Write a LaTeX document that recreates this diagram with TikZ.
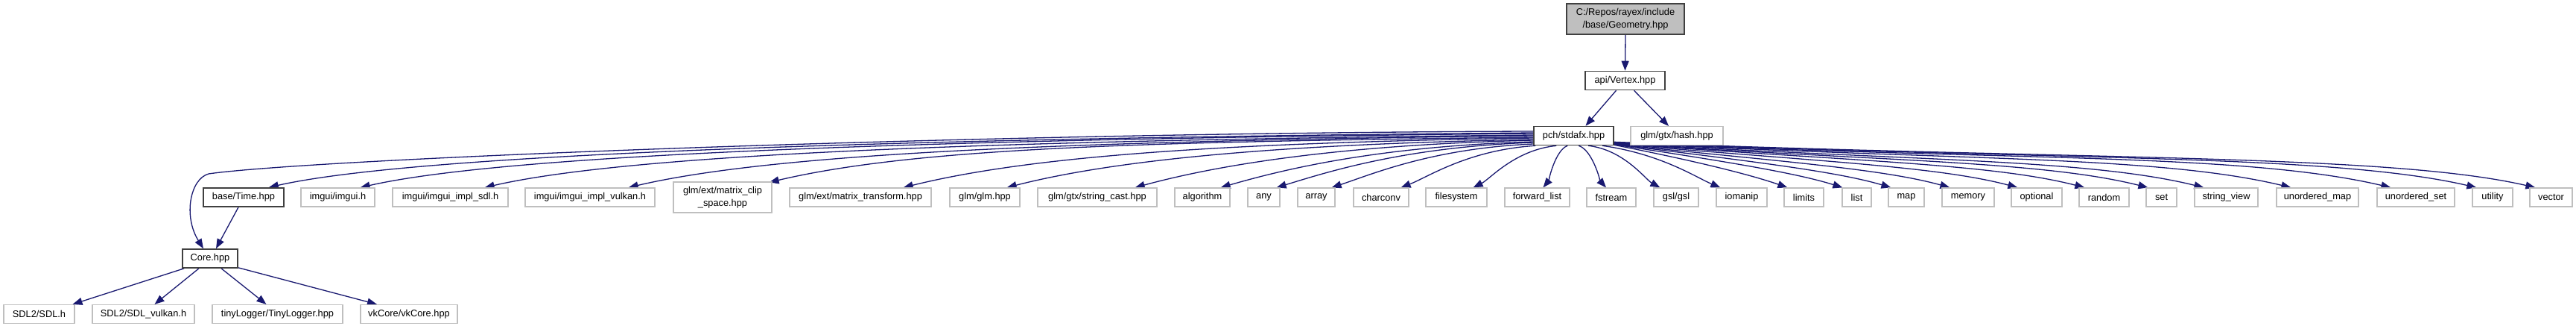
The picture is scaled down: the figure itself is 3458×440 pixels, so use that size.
\documentclass[tikz,border=0pt]{standalone}
\usepackage{fontspec}
\setmainfont{Liberation Sans}
\usetikzlibrary{calc,arrows.meta}
\definecolor{edgec}{RGB}{25,25,112}
\definecolor{gb}{RGB}{191,191,191}
\definecolor{db}{RGB}{64,64,64}
\pgfdeclarelayer{bg}
\pgfsetlayers{bg,main}
\tikzset{
  nbase/.style={rectangle, inner sep=0pt, minimum height=12.5pt, font=\fontsize{6.4}{8.5}\selectfont, align=center, anchor=center},
  gbox/.style={nbase, draw=gb, line width=0.6pt, fill=white},
  kbox/.style={nbase, draw=db, line width=0.8pt, fill=white},
  conn/.style={draw=edgec, line width=0.65pt, -{Triangle[length=6.5pt,width=5pt]}}
}
\newcommand\bx[6]{\node[#1, minimum width=#5*0.5pt] (#2) at (#3,#4) {#6};}
\newcommand\fanedge[5]{%
  \draw[conn] let \p1=($(#1)+(#2)$), \p2=($(#3)+(#4)$),
    \n1={max(abs(\x2-\x1),1pt)},
    \n2={\y1-\y2},
    \n3={0.2+0.6*\n2/\n1},
    \n4={min(0.2,100pt/\n1)}
  in (\p1) .. controls ({\x1+0.5*(\x2-\x1)},{\y1-#5*\n2}) and ({\x2-(\x2-\x1)*\n4},{\y2+\n3*\n1*\n4}) .. (\p2);}
\begin{document}
\begin{tikzpicture}[x=0.5pt,y=-0.5pt]
\useasboundingbox (0,0) rectangle (3458,440);
% nodes
\node[kbox, fill=gb, minimum width=79pt, minimum height=20.5pt] (geom) at (2182,25.5) {C:/Repos/rayex/include\\/base/Geometry.hpp};
\bx{kbox}{vertex}{2181.5}{108}{107}{api/Vertex.hpp}
\bx{kbox}{stdafx}{2112.5}{182}{107}{pch/stdafx.hpp}
\bx{gbox}{hash}{2251}{182}{124}{glm/gtx/hash.hpp}
\bx{kbox}{time}{327}{264.5}{108}{base/Time.hpp}
\bx{gbox}{imgui}{453.5}{264.5}{99}{imgui/imgui.h}
\bx{gbox}{implsdl}{604.5}{264.5}{155}{imgui/imgui\_impl\_sdl.h}
\bx{gbox}{implvk}{792}{264.5}{174}{imgui/imgui\_impl\_vulkan.h}
\node[gbox, minimum width=66pt, minimum height=20.5pt] (clip) at (970,264.5) {glm/ext/matrix\_clip\\\_space.hpp};
\bx{gbox}{transform}{1155}{264.5}{190}{glm/ext/matrix\_transform.hpp}
\bx{gbox}{glm}{1322}{264.5}{94}{glm/glm.hpp}
\bx{gbox}{strcast}{1473}{264.5}{160}{glm/gtx/string\_cast.hpp}
\bx{gbox}{algorithm}{1614}{264.5}{74}{algorithm}
\bx{gbox}{any}{1696.5}{264.5}{43}{any}
\bx{gbox}{array}{1767}{264.5}{50}{array}
\bx{gbox}{charconv}{1854}{264.5}{74}{charconv}
\bx{gbox}{filesystem}{1955}{264.5}{82}{filesystem}
\bx{gbox}{fwdlist}{2063.5}{264.5}{87}{forward\_list}
\bx{gbox}{fstream}{2163}{264.5}{66}{fstream}
\bx{gbox}{gsl}{2250}{264.5}{60}{gsl/gsl}
\bx{gbox}{iomanip}{2338}{264.5}{68}{iomanip}
\bx{gbox}{limits}{2421.5}{264.5}{53}{limits}
\bx{gbox}{list}{2492.5}{264.5}{39}{list}
\bx{gbox}{map}{2559}{264.5}{48}{map}
\bx{gbox}{memory}{2642}{264.5}{70}{memory}
\bx{gbox}{optional}{2734}{264.5}{68}{optional}
\bx{gbox}{random}{2824.5}{264.5}{67}{random}
\bx{gbox}{set}{2901.5}{264.5}{41}{set}
\bx{gbox}{strview}{2988.5}{264.5}{85}{string\_view}
\bx{gbox}{umap}{3111}{264.5}{110}{unordered\_map}
\bx{gbox}{uset}{3243}{264.5}{104}{unordered\_set}
\bx{gbox}{utility}{3346}{264.5}{54}{utility}
\bx{gbox}{vector}{3424.5}{264.5}{57}{vector}
\bx{kbox}{core}{282}{346.5}{74}{Core.hpp}
\bx{gbox}{sdl}{52.5}{421}{95}{SDL2/SDL.h}
\bx{gbox}{sdlvk}{192.5}{421}{137}{SDL2/SDL\_vulkan.h}
\bx{gbox}{tiny}{372.5}{421}{175}{tinyLogger/TinyLogger.hpp}
\bx{gbox}{vkcore}{549}{421}{130}{vkCore/vkCore.hpp}
% edges
\begin{pgfonlayer}{bg}
\draw[conn] (geom.south) -- (vertex.north);
\draw[conn] ($(vertex.south)+(-12,0)$) -- ($(stdafx.north)+(16,0)$);
\draw[conn] ($(vertex.south)+(12,0)$) -- ($(hash.north)+(-11,0)$);
\draw[conn] ($(time.south)+(-7,0)$) -- ($(core.north)+(8,0)$);
\draw[conn] ($(core.south west)+(3,0)$) -- ($(sdl.north)+(45,0)$);
\draw[conn] ($(core.south)+(-15,0)$) -- ($(sdlvk.north)+(15,0)$);
\draw[conn] ($(core.south)+(15,0)$) -- ($(tiny.north)+(-15,0)$);
\draw[conn] ($(core.south east)+(0,-1)$) -- ($(vkcore.north)+(-43,0)$);
\draw[conn] ($(stdafx.west)+(0,-6)$) .. controls (1300,178) and (420,213) .. (280,233)
   .. controls (255,240) and (246,290) .. ($(core.north)+(-9,0)$);
\fanedge{stdafx.west}{0,-4}{time.north east}{-21,0}{0.1}
\fanedge{stdafx.west}{0,-3}{imgui.north east}{-20,0}{0.1}
\fanedge{stdafx.west}{0,-1}{implsdl.north east}{-32,0}{0.1}
\fanedge{stdafx.west}{0,0}{implvk.north east}{-36,0}{0.1}
\fanedge{stdafx.west}{0,2}{clip.north east}{-4,1}{0.1}
\fanedge{stdafx.west}{0,3}{transform.north east}{-38,0}{0.1}
\fanedge{stdafx.west}{0,5}{glm.north east}{-18,0}{0.1}
\fanedge{stdafx.west}{0,6}{strcast.north east}{-30,0}{0.1}
\fanedge{stdafx.west}{0,8}{algorithm.north east}{-13,0}{0.1}
\fanedge{stdafx.west}{0,9}{any.north east}{-5,0}{0.1}
\fanedge{stdafx.west}{0,11}{array.north east}{-5,0}{0.1}
\fanedge{stdafx.south west}{3,0}{charconv.north east}{-11,0}{0.1}
\fanedge{stdafx.south west}{31,0}{filesystem.north east}{-19,0}{0.1}
\fanedge{stdafx.south west}{46,0}{fwdlist.north}{8,0}{0.1}
\fanedge{stdafx.south west}{61,0}{fstream.north}{-7,0}{0.1}
\fanedge{stdafx.south west}{74,0}{gsl.north west}{9,0}{0.1}
\fanedge{stdafx.south west}{93,0}{iomanip.north west}{6,0}{0.2}
\fanedge{stdafx.south east}{0,-1}{limits.north west}{5,0}{0.4}
\fanedge{stdafx.south east}{0,-1.5}{list.north west}{1,0}{0.4}
\fanedge{stdafx.south east}{0,-2}{map.north west}{4,0}{0.4}
\fanedge{stdafx.south east}{0,-2}{memory.north west}{11,0}{0.4}
\fanedge{stdafx.south east}{0,-2.5}{optional.north west}{9,0}{0.4}
\fanedge{stdafx.south east}{0,-3}{random.north west}{8,0}{0.4}
\fanedge{stdafx.south east}{0,-3}{set.north west}{3,0}{0.4}
\fanedge{stdafx.south east}{0,-3.5}{strview.north west}{13,0}{0.4}
\fanedge{stdafx.south east}{0,-4}{umap.north west}{20,0}{0.4}
\fanedge{stdafx.south east}{0,-4}{uset.north west}{19,0}{0.4}
\fanedge{stdafx.south east}{0,-4.5}{utility.north west}{6,0}{0.4}
\fanedge{stdafx.south east}{0,-5}{vector.north west}{8,0}{0.4}
\end{pgfonlayer}
\end{tikzpicture}
\end{document}
